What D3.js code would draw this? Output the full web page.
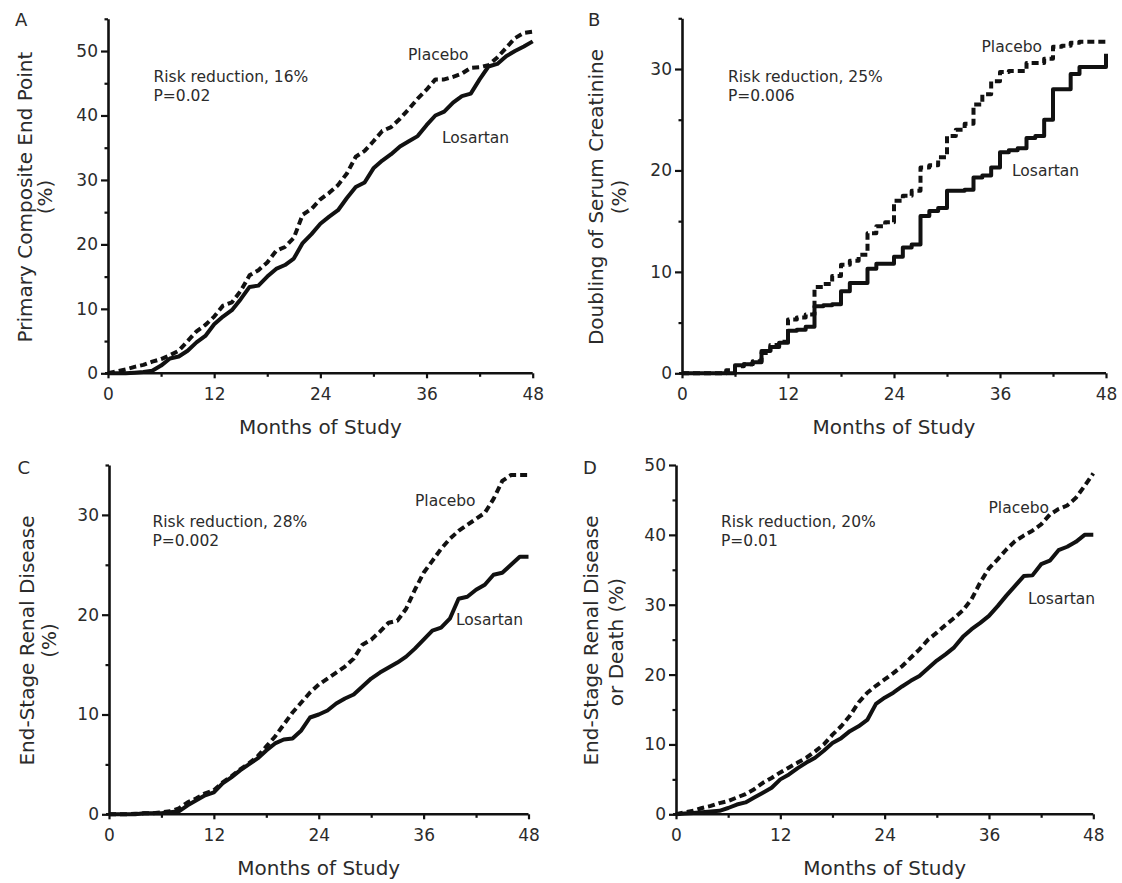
<!DOCTYPE html>
<html>
<head>
<meta charset="utf-8">
<script src="https://cdn.jsdelivr.net/npm/d3@7"></script>
<style>
  html, body { margin: 0; padding: 0; background: #fff; }
  svg { display: block; }
  text { font-family: "DejaVu Sans", sans-serif; fill: #2b2b2b; }
</style>
</head>
<body>
<svg id="chart" width="1122" height="883"></svg>
<script>
// ---------------- DATA ----------------
const months = d3.range(0, 49); // 0..48
const xTicks = [0, 12, 24, 36, 48];
const xMinorTicks = [6, 18, 30, 42];
const xTitle = "Months of Study";

// Panel A: Primary composite end point
const aLosartan = [0,0,0,0.1,0.2,0.4,1.2,2.3,2.6,3.5,4.8,5.8,7.6,8.8,9.8,11.5,13.4,13.6,15,16.2,16.8,17.8,20.2,21.6,23.2,24.3,25.3,27.2,28.9,29.6,31.8,33,34,35.2,36,36.8,38.5,40,40.6,42,43,43.4,45.6,47.6,48,49.2,50,50.7,51.5];
const aPlacebo  = [0,0.3,0.6,1,1.3,1.8,2.2,2.8,3.5,5,6.5,7.5,8.8,10.5,11,12.8,15.2,16,17.2,19,19.6,21,24.6,25.5,27,28,29.2,31,33.6,34.5,36,37.6,38.2,39.5,41,42.6,44,45.6,45.6,46,46.5,47.4,47.5,47.8,49,50.5,52,52.8,53];
const aYTicks = [0, 10, 20, 30, 40, 50];
const aYMinor = [5, 15, 25, 35, 45, 55];

// Panel B: Doubling of serum creatinine
const bLosartan = [0,0,0,0,0,0,0.8,0.9,1.1,2.2,2.6,3,4.2,4.3,4.6,6.6,6.7,6.8,8.1,8.9,8.9,10.3,10.8,10.8,11.5,12.4,12.7,15.5,16,16.3,18,18,18.1,19.3,19.5,20.3,21.8,22,22.2,23.2,23.4,25,28,28,29.5,30.2,30.2,30.2,31.5];
const bPlacebo  = [0,0,0,0,0,0.3,0.7,0.9,1.2,2,2.8,3.1,5.3,5.5,5.8,8.5,8.8,9.6,10.7,11.1,11.7,13.8,14.5,14.9,17,17.5,18,20.3,20.5,21.3,23.4,24,24.6,26.5,27.5,28.8,29.7,29.8,29.8,30.6,30.6,31,32.2,32.3,32.6,32.7,32.7,32.7,32.7];
const bYTicks = [0, 10, 20, 30];
const bYMinor = [5, 15, 25, 35];

// Panel C: End-stage renal disease
const cLosartan = [0,0,0,0,0.1,0.1,0.1,0.2,0.3,0.9,1.4,1.9,2.2,3.1,3.7,4.4,5,5.6,6.4,7.1,7.5,7.6,8.4,9.7,10,10.4,11.1,11.6,12,12.8,13.6,14.2,14.7,15.2,15.8,16.6,17.5,18.4,18.7,19.6,21.6,21.8,22.5,23,24,24.2,25,25.8,25.8];
const cPlacebo  = [0,0,0,0.05,0.1,0.1,0.2,0.3,0.6,1.2,1.6,2.1,2.4,3.2,3.8,4.5,5.1,5.8,6.8,7.8,9,10.2,11.2,12.2,13,13.6,14.2,14.8,15.6,17,17.5,18.3,19.2,19.4,20.6,22.5,24.2,25.4,26.6,27.6,28.4,29,29.6,30.2,31.6,33.4,34,34,34];
const cYTicks = [0, 10, 20, 30];
const cYMinor = [5, 15, 25, 35];

// Panel D: End-stage renal disease or death
const dLosartan = [0,0.1,0.2,0.3,0.4,0.5,0.9,1.4,1.7,2.4,3.1,3.8,5,5.7,6.6,7.4,8.1,9.1,10.2,10.9,11.9,12.6,13.5,15.8,16.7,17.4,18.3,19.1,19.8,20.9,22,22.9,23.9,25.4,26.5,27.4,28.4,29.8,31.3,32.7,34.1,34.2,35.8,36.3,37.8,38.3,39,40,40];
const dPlacebo  = [0,0.3,0.5,0.9,1.2,1.6,1.9,2.4,2.9,3.6,4.5,5.2,6,6.7,7.4,8.1,9,10,11.4,12.6,14.1,16,17.4,18.4,19.3,20.2,21.2,22.4,23.6,25,26,27.1,28.1,29.2,30.8,33.2,35.2,36.5,37.9,39.1,39.9,40.6,41.5,42.9,43.7,44.2,45.3,47,48.8];
const dYTicks = [0, 10, 20, 30, 40, 50];
const dYMinor = [5, 15, 25, 35, 45];

const panelLetters = ["A", "B", "C", "D"];
const yTitles = [
  ["Primary Composite End Point", "(%)"],
  ["Doubling of Serum Creatinine", "(%)"],
  ["End-Stage Renal Disease", "(%)"],
  ["End-Stage Renal Disease", "or Death (%)"]
];
const riskTexts = ["Risk reduction, 16%", "Risk reduction, 25%", "Risk reduction, 28%", "Risk reduction, 20%"];
const pTexts = ["P=0.02", "P=0.006", "P=0.002", "P=0.01"];
const seriesNames = ["Placebo", "Losartan"];

// ---------------- LAYOUT ----------------
const panels = [
  { placebo: aPlacebo, losartan: aLosartan, yMax: 55, yTicks: aYTicks, yMinor: aYMinor, step: false,
    x0: 108, x1: 532.7, yBase: 373.3, yTop: 18.8,
    letter: [15, 26], title1: [25, 197], title2: [45, 197],
    risk: [153.5, 81.5], p: [153.5, 100.7], plc: [408, 60], los: [442, 142.7] },
  { placebo: bPlacebo, losartan: bLosartan, yMax: 35, yTicks: bYTicks, yMinor: bYMinor, step: true,
    x0: 682, x1: 1106, yBase: 373.3, yTop: 18.3,
    letter: [588, 26], title1: [596, 197], title2: [619, 197],
    risk: [728, 81.8], p: [728, 100.8], plc: [981.5, 51.7], los: [1012, 175.8] },
  { placebo: cPlacebo, losartan: cLosartan, yMax: 35, yTicks: cYTicks, yMinor: cYMinor, step: false,
    x0: 109, x1: 528.5, yBase: 814.3, yTop: 465,
    letter: [17.5, 473.5], title1: [26.5, 640.5], title2: [49, 640.5],
    risk: [152.5, 526.5], p: [152.5, 545.8], plc: [415, 505.6], los: [456, 624.7] },
  { placebo: dPlacebo, losartan: dLosartan, yMax: 50, yTicks: dYTicks, yMinor: dYMinor, step: false,
    x0: 676, x1: 1093.3, yBase: 814.3, yTop: 465,
    letter: [583, 474], title1: [590.5, 640.5], title2: [615.5, 642],
    risk: [721, 526.5], p: [721, 545.8], plc: [988.5, 513.2], los: [1028, 603.7] }
];

const svg = d3.select("#chart");

panels.forEach((p, i) => {
  const g = svg.append("g");
  const x = d3.scaleLinear().domain([0, 48]).range([p.x0, p.x1]);
  const y = d3.scaleLinear().domain([0, p.yMax]).range([p.yBase, p.yTop]);

  // y axis major
  const yAx = g.append("g").attr("transform", `translate(${p.x0},0)`)
    .call(d3.axisLeft(y).tickValues(p.yTicks).tickSize(7).tickPadding(3).tickSizeOuter(0).tickFormat(d3.format("d")));
  yAx.select(".domain").attr("stroke", "#111").attr("stroke-width", 2.6);
  yAx.selectAll(".tick line").attr("stroke", "#111").attr("stroke-width", 2.2);
  yAx.selectAll(".tick text").style("font-size", "17px").style("font-family", "DejaVu Sans").attr("fill", "#2b2b2b");
  // y axis minor
  const yMin = g.append("g").attr("transform", `translate(${p.x0},0)`)
    .call(d3.axisLeft(y).tickValues(p.yMinor).tickSize(3.5).tickFormat(""));
  yMin.select(".domain").remove();
  yMin.selectAll(".tick line").attr("stroke", "#111").attr("stroke-width", 2.2);

  // x axis major
  const xAx = g.append("g").attr("transform", `translate(0,${p.yBase})`)
    .call(d3.axisBottom(x).tickValues(xTicks).tickSize(5).tickPadding(10).tickSizeOuter(0));
  xAx.select(".domain").attr("stroke", "#111").attr("stroke-width", 2.6)
    .attr("d", `M${p.x0 - 3},0H${p.x1}`);
  xAx.selectAll(".tick line").attr("stroke", "#111").attr("stroke-width", 2.2);
  xAx.selectAll(".tick text").style("font-size", "17px").style("font-family", "DejaVu Sans").attr("fill", "#2b2b2b");
  const xMin = g.append("g").attr("transform", `translate(0,${p.yBase})`)
    .call(d3.axisBottom(x).tickValues(xMinorTicks).tickSize(3.5).tickFormat(""));
  xMin.select(".domain").remove();
  xMin.selectAll(".tick line").attr("stroke", "#111").attr("stroke-width", 2.2);

  // curves
  const line = d3.line().x((d, k) => x(months[k])).y(d => y(d))
    .curve(p.step ? d3.curveStepAfter : d3.curveLinear);
  g.append("path").datum(p.placebo).attr("d", line)
    .attr("fill", "none").attr("stroke", "#111").attr("stroke-width", 4)
    .attr("stroke-dasharray", "7,4").attr("stroke-linejoin", "round");
  g.append("path").datum(p.losartan).attr("d", line)
    .attr("fill", "none").attr("stroke", "#111").attr("stroke-width", 4)
    .attr("stroke-linejoin", "round");

  // x title
  g.append("text").attr("x", (p.x0 + p.x1) / 2).attr("y", p.yBase + 61)
    .attr("text-anchor", "middle").style("font-size", "20px").text(xTitle);

  // y title
  g.append("text").attr("transform", `translate(${p.title1[0] + 7},${p.title1[1]}) rotate(-90)`)
    .attr("text-anchor", "middle").style("font-size", "20px").text(yTitles[i][0]);
  g.append("text").attr("transform", `translate(${p.title2[0] + 7},${p.title2[1]}) rotate(-90)`)
    .attr("text-anchor", "middle").style("font-size", "20px").text(yTitles[i][1]);

  // letter
  g.append("text").attr("x", p.letter[0]).attr("y", p.letter[1])
    .style("font-size", "18px").text(panelLetters[i]);

  // annotations
  g.append("text").attr("x", p.risk[0]).attr("y", p.risk[1]).style("font-size", "15.5px").text(riskTexts[i]);
  g.append("text").attr("x", p.p[0]).attr("y", p.p[1]).style("font-size", "15.5px").text(pTexts[i]);
  g.append("text").attr("x", p.plc[0]).attr("y", p.plc[1]).style("font-size", "15.5px").text(seriesNames[0]);
  g.append("text").attr("x", p.los[0]).attr("y", p.los[1]).style("font-size", "15.5px").text(seriesNames[1]);
});
</script>
</body>
</html>
